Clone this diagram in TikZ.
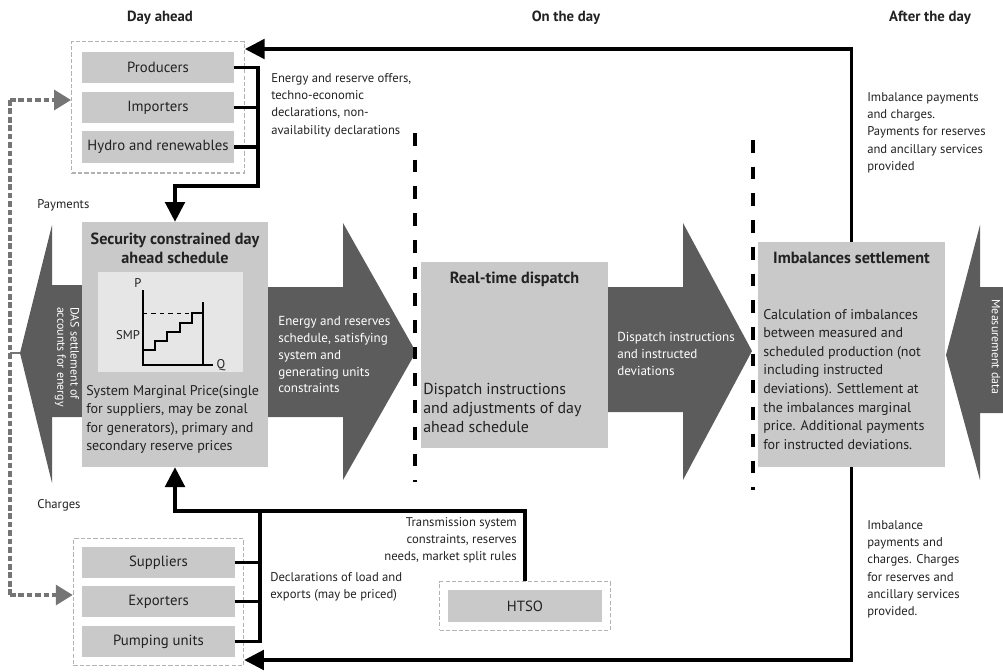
\documentclass[tikz,border=0pt]{standalone}
\usepackage{fontspec}
\setmainfont{PT Sans}
\usepackage{tikz}
\usetikzlibrary{
  arrows.meta,
  positioning,
  calc,
  fit,
}

\definecolor{boxgray}{HTML}{C9C9C9}
\definecolor{chartgray}{HTML}{E6E6E6}
\definecolor{flowgray}{HTML}{5C5C5C}
\definecolor{grpgray}{HTML}{B2B2B2}
\definecolor{linkgray}{HTML}{757575}
\definecolor{txtgray}{HTML}{222222}

\begin{document}
\begin{tikzpicture}[
  x=0.025cm, y=-0.025cm,
  font=\fontsize{9}{12.2}\selectfont,
  every node/.style={text=txtgray},
  hdr/.style={font=\bfseries\fontsize{10.5}{12}\selectfont},
  unit/.style={fill=boxgray, minimum width=3.8cm, minimum height=0.78cm,
    inner sep=0pt, font=\fontsize{10.5}{12}\selectfont},
  grp/.style={draw=grpgray, line width=0.9pt, dash pattern=on 3pt off 1.5pt},
  bigbox/.style={fill=boxgray, inner sep=0pt},
  ttl/.style={font=\bfseries\fontsize{11.5}{13.5}\selectfont, align=center},
  body/.style={font=\fontsize{10}{13.2}\selectfont, align=left,
    anchor=north west, inner sep=0pt},
  note/.style={font=\fontsize{9}{12.3}\selectfont, align=left,
    anchor=north west, inner sep=0pt},
  wnote/.style={note, text=white, font=\fontsize{9.3}{12}\selectfont},
  vnote/.style={text=white, anchor=center, align=left, rotate=-90,
    inner sep=0pt, font=\fontsize{8.5}{9.5}\selectfont},
  flow/.style={fill=flowgray},
  link/.style={line width=2.3pt, black},
  conn/.style={link, -{Triangle[length=14pt,width=14pt]}},
  glink/.style={color=linkgray, line width=2.6pt, dash pattern=on 4pt off 2pt},
  gconn/.style={glink, -{Triangle[length=12pt,width=14pt]}},
  phase/.style={line width=2.2pt, dash pattern=on 9pt off 10pt},
]
\useasboundingbox (0,0) rectangle (1003,671);

%% Phases
\node[hdr] (hday) at (160,18) {Day ahead};
\node[hdr] (hon) at (566,18) {On the day};
\node[hdr] (hafter) at (930,18) {After the day};

%% Big flow arrows
\fill[flow] (268,287) -- (343,287) -- (343,223) -- (416,352)
  -- (343,480) -- (343,417) -- (268,417) -- cycle;
\fill[flow] (608,287) -- (683,287) -- (683,223) -- (752,351)
  -- (683,480) -- (683,412) -- (608,412) -- cycle;
\fill[flow] (82,285) -- (52,285) -- (52,225) -- (20,353)
  -- (52,483) -- (52,417) -- (82,417) -- cycle;
\fill[flow] (1003,287) -- (980,287) -- (980,225) -- (946,355)
  -- (980,480) -- (980,413) -- (1003,413) -- cycle;

\node[wnote] (sched) at (278,316) {Energy and reserves\\schedule, satisfying\\system and\\generating units\\constraints};
\node[wnote] (disp) at (617,332) {Dispatch instructions\\and instructed\\deviations};
\node[vnote] (das) at (67,357) {DAS settlement of\\accounts for energy};
\node[vnote] (meas) at (996,347) {Measurement data};

%% Market participants
\node[unit] (prod) at (158,67.5) {Producers};
\node[unit] (imp) at (158,107.5) {Importers};
\node[unit] (hyd) at (158,147) {Hydro and renewables};
\node[grp, fit=(prod)(hyd), inner xsep=0.25cm, inner ysep=0.25cm] (gtop) {};

\node[unit] (sup) at (158.5,562.5) {Suppliers};
\node[unit] (exp) at (158.5,601.5) {Exporters};
\node[unit] (pum) at (158.5,641.5) {Pumping units};
\node[grp, fit=(sup)(pum), inner xsep=0.22cm, inner ysep=0.2cm] (gbot) {};

\node[unit, minimum width=3.85cm, minimum height=0.8cm] (htso) at (525,606) {HTSO};
\node[grp, fit=(htso), inner sep=0.2cm] (ghtso) {};

%% Day ahead schedule
\node[bigbox, minimum width=4.65cm, minimum height=6.125cm] (scd) at (175,344.5) {};
\node[ttl] (scdt) at (175,248) {Security constrained day\\ahead schedule};
\fill[chartgray] (98,272) rectangle (243,372);
\draw[line width=1.3pt] (143,290) -- (143,365) -- (213,365);
\draw[line width=1.3pt] (203,302) -- (203,365);
\draw[dashed, thin] (143,313) -- (203,313);
\draw[line width=1.3pt] (143,350) -| (155,341) -| (167,332) -| (180,323)
  -| (192,313) -- (203,313);
\node (plab) at (138,283) {P};
\node (smp) at (128,335) {SMP};
\node (qlab) at (221,365) {Q};
\node[body] (scdb) at (86,385) {System Marginal Price(single\\for suppliers, may be zonal\\for generators), primary and\\secondary reserve prices};

%% Real-time dispatch
\node[bigbox, minimum width=4.675cm, minimum height=4.65cm] (rtd) at (514.5,355) {};
\node[ttl] (rtdt) at (514.5,279) {Real-time dispatch};
\node[body, font=\fontsize{11.3}{13.6}\selectfont] (rtdb) at (423,383) {Dispatch instructions\\and adjustments of day\\ahead schedule};

%% Imbalances settlement
\node[bigbox, minimum width=4.675cm, minimum height=5.625cm] (imb) at (851.5,354.5) {};
\node[ttl] (imbt) at (851.5,258) {Imbalances settlement};
\node[body] (imbb) at (763,309) {Calculation of imbalances\\between measured and\\scheduled production (not\\including instructed\\deviations). Settlement at\\the imbalances marginal\\price. Additional payments\\for instructed deviations.};

%% Phase borders
\draw[phase] (415,133) -- (415,482);
\draw[phase] (753,140) -- (753,490);

%% Labels
\node[note] (offers) at (271,73) {Energy and reserve offers,\\techno-economic\\declarations, non-\\availability declarations};
\node[note] (impay) at (867,92) {Imbalance payments\\and charges.\\Payments for reserves\\and ancillary services\\provided};
\node[note] (imchg) at (867,520) {Imbalance\\payments and\\charges. Charges\\for reserves and\\ancillary services\\provided.};
\node[note] (decl) at (270,572) {Declarations of load and\\exports (may be priced)};
\node[note, align=right, anchor=north east] (trans) at (517,517) {Transmission system\\constraints, reserves\\needs, market split rules};
\node[note, anchor=west] (pay) at (37,205) {Payments};
\node[note, anchor=west] (chg) at (37,505) {Charges};

%% Connectors
\coordinate (jtop) at (258,186);
\draw[link] (imp.east) -- (imp.east -| jtop);
\draw[link] (hyd.east) -- (hyd.east -| jtop);
\draw[conn] (prod.east) -| (jtop) -| (scd.north);

\coordinate (jbot) at (260,511);
\draw[link] (sup.east) -| (jbot);
\draw[link] (exp.east) -- (exp.east -| jbot);
\draw[link] (pum.east) -| (jbot);
\draw[conn] (ghtso.north) |- (jbot) -| (scd.south);

\coordinate (ttop) at (851.5,49);
\coordinate (tbot) at (851.5,660);
\draw[conn] (imb.north) -- (ttop) -- (gtop.east |- ttop);
\draw[conn] (imb.south) -- (tbot) -- (gbot.east |- tbot);

%% Payments and charges
\coordinate (gl1) at (10,100);
\coordinate (gl2) at (10,595);
\coordinate (dastip) at (20,353);
\draw[glink] (gl1) -- (gl2);
\draw[gconn] (gl1) -- (gtop.west |- gl1);
\draw[gconn] (gl2) -- (gbot.west |- gl2);
\draw[linkgray, line width=1.2pt] (dastip) -- (dastip -| gl1);

\end{tikzpicture}
\end{document}
